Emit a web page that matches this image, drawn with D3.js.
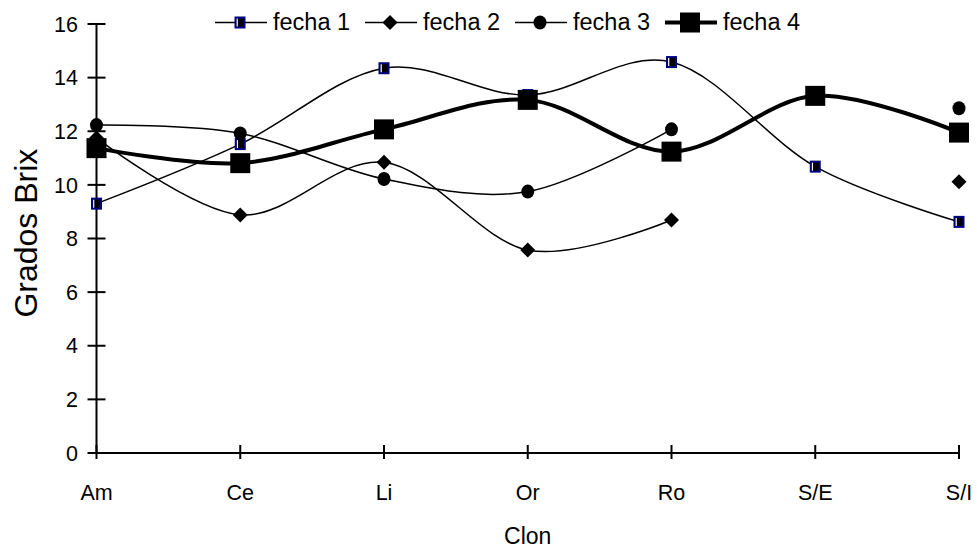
<!DOCTYPE html>
<html>
<head>
<meta charset="utf-8">
<script src="https://cdn.jsdelivr.net/npm/d3@7"></script>
<style>
  html, body { margin: 0; padding: 0; background: #fff; }
  svg { display: block; font-family: "Liberation Sans", Arial, sans-serif; }
</style>
</head>
<body>
<svg id="chart" width="977" height="551"></svg>
<script>
// Clones on the x axis
const categories = ["Am", "Ce", "Li", "Or", "Ro", "S/E", "S/I"];
// Degrees Brix per sampling date (null = not measured)
const fecha1 = [9.30, 11.52, 14.35, 13.35, 14.58, 10.68, 8.62];
const fecha2 = [11.75, 8.88, 10.84, 7.57, 8.69, null, 10.12];
const fecha3 = [12.23, 11.92, 10.22, 9.75, 12.07, null, 12.86];
const fecha4 = [11.37, 10.81, 12.07, 13.17, 11.24, 13.32, 11.95];
const seriesNames = ["fecha 1", "fecha 2", "fecha 3", "fecha 4"];
const yTicks = [0, 2, 4, 6, 8, 10, 12, 14, 16];

const svg = d3.select("#chart");

const x = d3.scalePoint().domain(categories).range([96.5, 959]);
const y = d3.scaleLinear().domain([0, 16]).range([453, 24]);

// Axes: ticks cross the axis line on both sides
const yAxis = svg.append("g");
yAxis.append("line")
  .attr("x1", x(categories[0])).attr("x2", x(categories[0]))
  .attr("y1", y(16)).attr("y2", y(0))
  .attr("stroke", "#000").attr("stroke-width", 2);
yAxis.selectAll("line.tick").data(yTicks).join("line")
  .attr("class", "tick")
  .attr("x1", x(categories[0]) - 9).attr("x2", x(categories[0]) + 9)
  .attr("y1", d => y(d)).attr("y2", d => y(d))
  .attr("stroke", "#000").attr("stroke-width", 2);
yAxis.selectAll("text").data(yTicks).join("text")
  .attr("x", 78).attr("y", d => y(d))
  .attr("dy", "0.36em")
  .attr("text-anchor", "end")
  .attr("font-size", 21.5)
  .text(d => d);

const xAxis = svg.append("g");
xAxis.append("line")
  .attr("x1", x(categories[0])).attr("x2", x(categories[categories.length - 1]))
  .attr("y1", y(0)).attr("y2", y(0))
  .attr("stroke", "#000").attr("stroke-width", 2);
xAxis.selectAll("line.tick").data(categories).join("line")
  .attr("class", "tick")
  .attr("x1", d => x(d)).attr("x2", d => x(d))
  .attr("y1", y(0) - 8).attr("y2", y(0) + 6)
  .attr("stroke", "#000").attr("stroke-width", 2);
xAxis.selectAll("text").data(categories).join("text")
  .attr("x", d => x(d)).attr("y", 492)
  .attr("dy", "0.36em")
  .attr("text-anchor", "middle")
  .attr("font-size", 21.5)
  .text(d => d);

// Axis titles
svg.append("text")
  .attr("transform", "translate(25," + y(8.2) + ") rotate(-90)")
  .attr("text-anchor", "middle")
  .attr("dy", "0.36em")
  .attr("font-size", 32)
  .text("Grados Brix");
svg.append("text")
  .attr("x", (x(categories[0]) + x(categories[6])) / 2)
  .attr("y", 536)
  .attr("dy", "0.36em")
  .attr("text-anchor", "middle")
  .attr("font-size", 23)
  .text("Clon");

// Smoothed series lines
const line = d3.line()
  .defined(d => d.v !== null)
  .x(d => x(d.c))
  .y(d => y(d.v))
  .curve(d3.curveCatmullRom.alpha(0));

const series = [fecha1, fecha2, fecha3, fecha4].map((vals, i) => ({
  name: seriesNames[i],
  pts: categories.map((c, j) => ({ c, v: vals[j] }))
}));
const widths = [1.5, 1.5, 1.5, 4];

// Marker drawers
function drawMarker(g, idx, cx, cy) {
  if (idx === 0) {
    g.append("rect").attr("x", cx - 4.5).attr("y", cy - 5).attr("width", 9).attr("height", 10)
      .attr("fill", "#000").attr("stroke", "#000080").attr("stroke-width", 2);
    g.append("line").attr("x1", cx - 2.8).attr("x2", cx - 2.8).attr("y1", cy - 4).attr("y2", cy + 4)
      .attr("stroke", "#fff").attr("stroke-width", 1.2);
  } else if (idx === 1) {
    g.append("path")
      .attr("d", `M${cx},${cy - 7.5}L${cx + 7.5},${cy}L${cx},${cy + 7.5}L${cx - 7.5},${cy}Z`)
      .attr("fill", "#000");
  } else if (idx === 2) {
    g.append("ellipse").attr("cx", cx).attr("cy", cy).attr("rx", 6.5).attr("ry", 7)
      .attr("fill", "#000");
  } else {
    g.append("rect").attr("x", cx - 10).attr("y", cy - 10).attr("width", 20).attr("height", 20)
      .attr("fill", "#000");
  }
}

// Lines first, then markers on top
series.forEach((s, i) => {
  svg.append("path")
    .datum(s.pts)
    .attr("d", line)
    .attr("fill", "none")
    .attr("stroke", "#000")
    .attr("stroke-width", widths[i])
    .attr("stroke-linejoin", "round");
});
series.forEach((s, i) => {
  const g = svg.append("g");
  s.pts.filter(p => p.v !== null).forEach(p => drawMarker(g, i, x(p.c), y(p.v)));
});

// Legend
const legendLineX = [215, 365, 515, 665];
const legendY = 22.5;
seriesNames.forEach((name, i) => {
  const g = svg.append("g");
  const x0 = legendLineX[i];
  g.append("line")
    .attr("x1", x0).attr("x2", x0 + 52)
    .attr("y1", legendY).attr("y2", legendY)
    .attr("stroke", "#000").attr("stroke-width", widths[i]);
  drawMarker(g, i, x0 + 25, legendY);
  g.append("text")
    .attr("x", x0 + 58).attr("y", 29.5)
    .attr("font-size", 23.5)
    .text(name);
});
</script>
</body>
</html>
